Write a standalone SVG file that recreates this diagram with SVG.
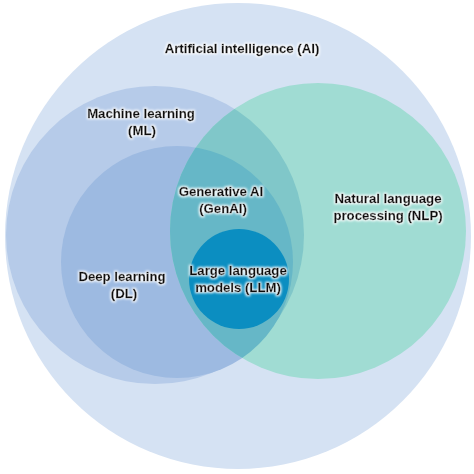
<svg xmlns="http://www.w3.org/2000/svg" width="474" height="474" viewBox="0 0 474 474">
  <defs>
    <clipPath id="clipNLP"><circle cx="318" cy="231" r="148"/></clipPath>
    <filter id="glow" x="-10%" y="-30%" width="120%" height="160%">
      <feMorphology in="SourceAlpha" operator="dilate" radius="1.2" result="d"/>
      <feGaussianBlur in="d" stdDeviation="0.8" result="b"/>
      <feFlood flood-color="#ffffff" flood-opacity="0.95"/>
      <feComposite in2="b" operator="in" result="w"/>
      <feMerge><feMergeNode in="w"/><feMergeNode in="SourceGraphic"/></feMerge>
    </filter>
  </defs>
  <style>
    .lbl { font-family: "Liberation Sans", Arial, sans-serif; font-weight: bold; font-size: 13.2px; fill: #0d0d0d; stroke: #0d0d0d; stroke-width: 0.35px; text-anchor: middle; filter: url(#glow); }
  </style>
  <rect width="474" height="474" fill="#ffffff"/>
  <g id="ai">
    <circle cx="238" cy="236" r="233" fill="#d5e2f3"/>
    <text class="lbl" x="242" y="53">Artificial intelligence (AI)</text>
  </g>
  <g id="ml">
    <circle cx="155" cy="235" r="149" fill="#b6cbe9"/>
  </g>
  <g id="dl">
    <circle cx="177" cy="262" r="116" fill="#9dbae1"/>
  </g>
  <g id="nlp">
    <circle cx="318" cy="231" r="148" fill="#a0dcd3"/>
    <g clip-path="url(#clipNLP)">
      <circle cx="155" cy="235" r="149" fill="#80c7c9"/>
      <circle cx="177" cy="262" r="116" fill="#66b7c7"/>
    </g>
  </g>
  <g id="genai">
    <text class="lbl" x="221" y="196">Generative AI</text>
    <text class="lbl" x="223" y="213">(GenAI)</text>
  </g>
  <g id="llm">
    <circle cx="239" cy="279" r="50" fill="#0b8ec1"/>
    <text class="lbl" x="238" y="275">Large language</text>
    <text class="lbl" x="238" y="292">models (LLM)</text>
  </g>
  <g id="labels">
    <text class="lbl" x="141" y="118">Machine learning</text>
    <text class="lbl" x="142" y="135">(ML)</text>
    <text class="lbl" x="122" y="281">Deep learning</text>
    <text class="lbl" x="124" y="298">(DL)</text>
    <text class="lbl" x="388" y="203">Natural language</text>
    <text class="lbl" x="388" y="220">processing (NLP)</text>
  </g>
  <g id="connectors"/>
</svg>
